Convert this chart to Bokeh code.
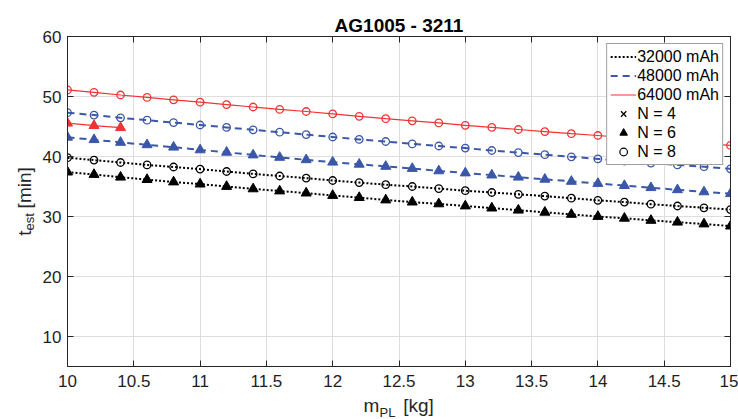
from math import pi, nan

from bokeh.plotting import figure
from bokeh.models import Range1d, FixedTicker, LinearAxis, Legend, LegendItem
from bokeh.embed import file_html
from bokeh.resources import INLINE
from bokeh.core.properties import value

# ---------------- data ----------------
mass_kg = [10.0, 10.2, 10.4, 10.6, 10.8, 11.0, 11.2, 11.4, 11.6, 11.8, 12.0, 12.2, 12.4,
           12.6, 12.8, 13.0, 13.2, 13.4, 13.6, 13.8, 14.0, 14.2, 14.4, 14.6, 14.8, 15.0]

t_32000_n6 = [37.4, 37.0, 36.55, 36.15, 35.75, 35.4, 35.0, 34.6, 34.25, 33.9, 33.5, 33.15, 32.75,
              32.4, 32.1, 31.75, 31.4, 31.05, 30.7, 30.35, 30.0, 29.7, 29.35, 29.05, 28.75, 28.4]
t_32000_n8 = [39.8, 39.4, 39.0, 38.6, 38.25, 37.9, 37.5, 37.1, 36.75, 36.4, 36.0, 35.65, 35.3,
              35.0, 34.65, 34.3, 34.0, 33.7, 33.4, 33.05, 32.7, 32.4, 32.05, 31.75, 31.45, 31.15]
t_48000_n6 = [43.2, 42.8, 42.35, 41.95, 41.55, 41.1, 40.7, 40.25, 39.85, 39.45, 39.05, 38.7, 38.35,
              38.0, 37.6, 37.25, 36.9, 36.55, 36.2, 35.85, 35.5, 35.15, 34.8, 34.45, 34.1, 33.8]
t_48000_n8 = [47.3, 46.9, 46.45, 46.05, 45.65, 45.25, 44.85, 44.45, 44.05, 43.65, 43.25, 42.85, 42.5,
              42.1, 41.75, 41.4, 41.0, 40.65, 40.3, 39.95, 39.6, 39.25, 38.9, 38.6, 38.3, 37.95]
mass_64000_n6 = [10.0, 10.2, 10.4]
t_64000_n6 = [45.55, 45.15, 44.8]
t_64000_n8 = [51.1, 50.7, 50.25, 49.85, 49.45, 49.05, 48.65, 48.25, 47.85, 47.5, 47.1, 46.7, 46.3,
              45.95, 45.6, 45.2, 44.85, 44.5, 44.15, 43.8, 43.5, 43.15, 42.8, 42.5, 42.15, 41.85]

x_ticks = [10, 10.5, 11, 11.5, 12, 12.5, 13, 13.5, 14, 14.5, 15]
x_tick_labels = ["10", "10.5", "11", "11.5", "12", "12.5", "13", "13.5", "14", "14.5", "15"]
y_ticks = [10, 20, 30, 40, 50, 60]
y_tick_labels = ["10", "20", "30", "40", "50", "60"]

capacity_labels = ["32000 mAh", "48000 mAh", "64000 mAh"]
n_labels = ["N = 4", "N = 6", "N = 8"]
title_text = "AG1005 - 3211"
x_label_parts = ["m", "PL", "[kg]"]
y_label_parts = ["t", "est", "[min]"]

# ---------------- style ----------------
FONT = "Liberation Sans"
INK = "#262626"
BLACK = "#000000"
BLUE = "#3b57a8"
RED = "#f03434"

X_MIN, X_MAX, Y_MIN, Y_MAX = 10, 15, 5, 60
W, H = 738, 419
LEFT, RIGHT, TOP, BOTTOM = 67, 8, 36, 53
FRAME_W = W - LEFT - RIGHT
FRAME_H = H - TOP - BOTTOM

p = figure(width=W, height=H, output_backend="svg", toolbar_location=None,
           x_range=Range1d(X_MIN, X_MAX), y_range=Range1d(Y_MIN, Y_MAX),
           min_border_left=LEFT, min_border_right=RIGHT,
           min_border_top=TOP, min_border_bottom=BOTTOM,
           background_fill_color="white", border_fill_color="white")
p.outline_line_color = INK
p.outline_line_width = 1

# grid
p.xgrid.ticker = FixedTicker(ticks=x_ticks)
p.ygrid.ticker = FixedTicker(ticks=y_ticks)
for g in (p.xgrid[0], p.ygrid[0]):
    g.grid_line_color = "#dedede"
    g.grid_line_width = 1


def style_axis(ax, ticks, labels, standoff, show_labels=True):
    ax.ticker = FixedTicker(ticks=ticks)
    ax.axis_line_color = INK
    ax.axis_line_width = 1
    ax.major_tick_line_color = INK
    ax.major_tick_in = 6
    ax.major_tick_out = 0
    ax.minor_tick_line_color = None
    ax.major_label_standoff = standoff
    ax.major_label_text_font = FONT
    ax.major_label_text_color = "#1e1e1e"
    if show_labels:
        ax.major_label_text_font_size = "17px"
        ax.major_label_overrides = {t: l for t, l in zip(ticks, labels)}
    else:
        ax.major_label_text_font_size = "0px"
        ax.major_label_overrides = {t: "" for t in ticks}


style_axis(p.below[0], x_ticks, x_tick_labels, 8)
style_axis(p.left[0], y_ticks, y_tick_labels, 6)

top_axis = LinearAxis()
right_axis = LinearAxis()
style_axis(top_axis, x_ticks, x_tick_labels, 0, show_labels=False)
style_axis(right_axis, y_ticks, y_tick_labels, 0, show_labels=False)
p.add_layout(top_axis, "above")
p.add_layout(right_axis, "right")

# ---------------- series ----------------
series = [
    (t_32000_n6, t_32000_n8, mass_kg, BLACK, "2 2", 2.0),
    (t_48000_n6, t_48000_n8, mass_kg, BLUE, "7 5", 2.0),
    (t_64000_n6, t_64000_n8, mass_64000_n6, RED, "solid", 1.2),
]

cap_renderers = []
for t6, t8, m6, color, dash, lw in series:
    p.line(m6, t6, line_color=color, line_dash=dash, line_width=lw)
    p.scatter(m6, t6, marker="triangle", size=10, fill_color=color, line_color=color)
    r8 = p.line(mass_kg, t8, line_color=color, line_dash=dash, line_width=lw)
    p.scatter(mass_kg, t8, marker="circle", size=7.5, fill_color=None,
              line_color=color, line_width=1.3)
    cap_renderers.append(r8)

# legend-only marker entries (black, nothing drawn in the plot)
n4 = p.scatter(x=[nan], y=[nan], marker="x", size=6, line_color=BLACK, line_width=1.3)
n6 = p.scatter(x=[nan], y=[nan], marker="triangle", size=8, fill_color=BLACK, line_color=BLACK)
n8 = p.scatter(x=[nan], y=[nan], marker="circle", size=6, fill_color=None,
               line_color=BLACK, line_width=1.2)

items = [LegendItem(label=lab, renderers=[r]) for lab, r in zip(capacity_labels, cap_renderers)]
items += [LegendItem(label=lab, renderers=[r]) for lab, r in zip(n_labels, [n4, n6, n8])]

legend = Legend(items=items, location="top_right", margin=7, padding=3, spacing=0,
                glyph_width=26, glyph_height=19, label_height=19, label_standoff=1,
                label_text_font=FONT, label_text_font_size="16px", label_text_color=BLACK,
                border_line_color="#404040", border_line_width=1,
                background_fill_color="white", background_fill_alpha=1.0)
p.add_layout(legend)

# ---------------- texts (drawn above the frame, not clipped) ----------------
PX_X = FRAME_W / (X_MAX - X_MIN)
PX_Y = FRAME_H / (Y_MAX - Y_MIN)
SHIFT = 3  # compensates the renderer's baseline offset


def dx(px):
    return X_MIN + px / PX_X


def dy(px):
    return Y_MIN + px / PX_Y


def put_text(px, py, txt, size, angle=0.0, align="left", style="normal", color=INK):
    p.text(x=[dx(px)], y=[dy(py)], text=[txt], angle=angle,
           text_font=value(FONT), text_font_size=value(size), text_font_style=style,
           text_color=color, text_align=align, text_baseline="alphabetic",
           level="overlay")


# title
put_text(FRAME_W / 2, FRAME_H + 7.7 + SHIFT, title_text, "19px", align="center",
         style="bold", color=BLACK)

# x label: m_PL [kg]
put_text(296, -42 + SHIFT, x_label_parts[0], "19px")
put_text(312, -49 + SHIFT, x_label_parts[1], "13px")
put_text(335.7, -42 + SHIFT, x_label_parts[2], "19px")

# y label: t_est [min] (rotated)
put_text(-40 - SHIFT, 130.8, y_label_parts[0], "19px", angle=pi / 2)
put_text(-35 - SHIFT, 136.1, y_label_parts[1], "13px", angle=pi / 2)
put_text(-40 - SHIFT, 158.1, y_label_parts[2], "19px", angle=pi / 2)

open("out.html", "w").write(file_html(p, INLINE))
